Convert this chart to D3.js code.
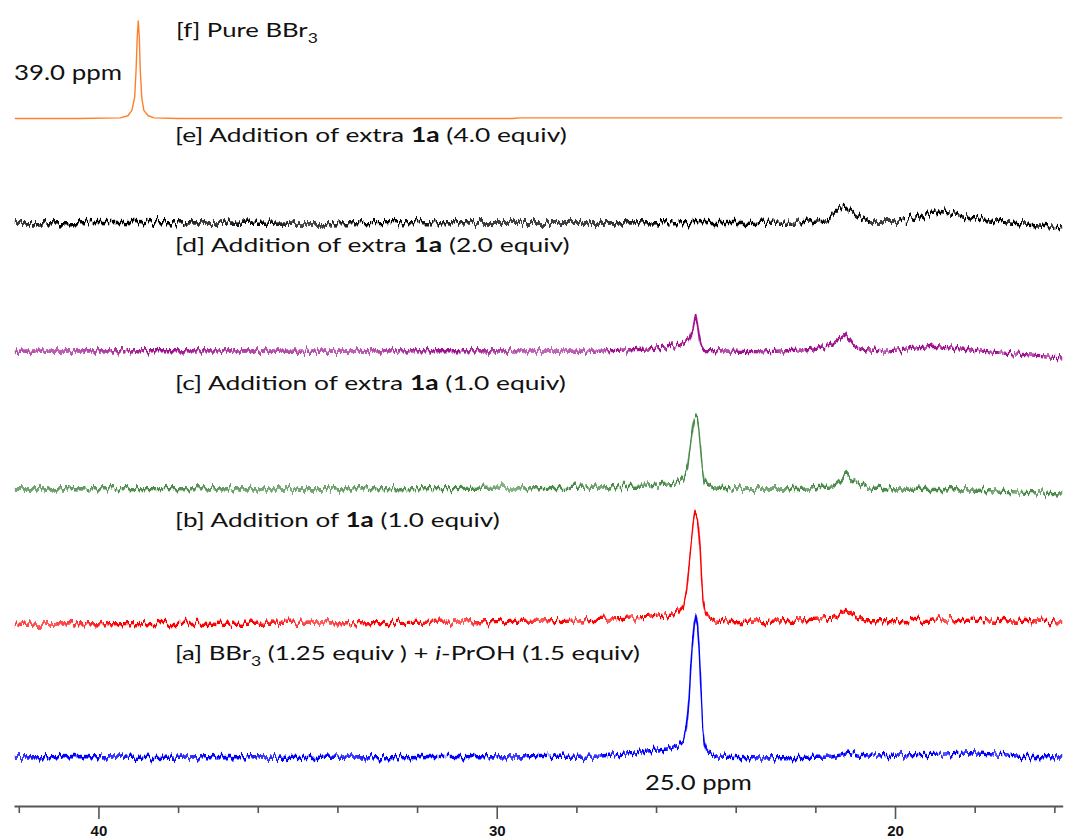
<!DOCTYPE html>
<html>
<head>
<meta charset="utf-8">
<script src="https://cdn.jsdelivr.net/npm/d3@7"></script>
<style>
  html, body { margin: 0; padding: 0; background: #fff; }
  svg { display: block; }
</style>
</head>
<body>
<svg id="chart" width="1076" height="839"></svg>
<script>
// ---- 11B NMR axis (ppm) ----
const tickValues = [42, 40, 38, 36, 34, 32, 30, 28, 26, 24, 22, 20, 18, 16];
const majorTicks = [40, 30, 20];

// Peak positions quoted on the plot (ppm)
const peakBBr3 = 39.0;
const peakAdduct = 25.0;

// Spectra as [ppm, intensity]; intensity relative to the main peak of [a] (= 100)
const spectrumA = [ // BBr3 (1.25 equiv) + i-PrOH (1.5 equiv)
  [42.1, 0], [40.5, 0.4], [38.7, -0.3], [36.8, 0.3], [34.9, -0.3], [33.0, 0.2], [31.2, 0.3],
  [29.5, 0], [28.5, 0.5], [27.4, 0.7], [26.6, 2.5], [26.22, 4.2], [25.71, 5.6], [25.42, 8.5],
  [25.31, 12], [25.25, 19], [25.21, 28], [25.17, 42], [25.13, 62], [25.085, 80], [25.04, 94],
  [peakAdduct, 100], [24.96, 94], [24.925, 80], [24.89, 60], [24.86, 40], [24.83, 22], [24.79, 11],
  [24.73, 5], [24.66, 2.8], [24.48, 0], [23.4, -0.7], [22.4, -0.3], [21.6, 0], [21.35, 1.5], [21.18, 3.5],
  [20.95, 1.4], [20.6, 0.5], [19.9, 1.4], [18.8, 2], [18.1, 3], [17.4, 2], [16.9, 0.5], [15.8, 0]
];
const spectrumB = [ // + 1a (1.0 equiv)
  [42.1, -1.4], [38.0, -1.0], [34.9, -0.7], [31.2, 0], [29.0, 0.7], [27.4, 1.9], [26.2, 3.3],
  [25.5, 6.1], [25.31, 12], [25.23, 22.5], [25.17, 40], [25.12, 55], [25.07, 68], [25.035, 74],
  [peakAdduct, 76.5], [24.965, 74], [24.93, 66], [24.89, 50.7], [24.855, 30], [24.82, 15], [24.76, 6.1],
  [24.66, 2.5], [24.53, 0.9], [24.02, -0.5], [22.8, 0.9], [21.56, 2.6], [21.4, 5], [21.24, 9.6],
  [21.1, 6], [20.97, 3.7], [20.72, 0.9], [19.9, 0.9], [18.8, 1.4], [18.1, 2.1], [17.2, 1.0], [15.8, -0.7]
];
const spectrumC = [ // + extra 1a (1.0 equiv)
  [42.1, 0], [38.5, 0.3], [34.9, 0], [31.2, 0.3], [27.4, 1.4], [26.2, 2.1], [25.5, 4.2],
  [25.3, 8], [25.21, 16], [25.145, 30], [25.075, 44], [25.035, 49], [peakAdduct, 50], [24.965, 49],
  [24.925, 42], [24.88, 28], [24.84, 14], [24.79, 6], [24.7, 2.5], [24.53, 0.7], [24.02, 0],
  [22.8, 0], [21.56, 1.4], [21.4, 5.5], [21.24, 11.3], [21.1, 6.5], [20.97, 4.2], [20.72, 0.7],
  [19.9, 0], [18.1, -0.7], [17.0, -2], [15.8, -3.5]
];
const spectrumD = [ // + extra 1a (2.0 equiv)
  [42.1, 0], [38.5, 0.3], [34.9, 0], [31.2, 0.3], [27.4, 0], [26.2, 1.5], [25.40, 4.2],
  [25.16, 8], [25.07, 16], [25.025, 23], [peakAdduct, 26.5], [24.965, 20], [24.92, 11], [24.875, 4],
  [24.8, 0.5], [23.3, -0.5], [22.12, 1.2], [21.6, 4.2], [21.4, 8.5], [21.27, 12.9], [21.15, 8],
  [21.06, 4.2], [20.81, 1.2], [20.22, 0], [19.05, 3.5], [18.22, 1.2], [17.38, -1.2], [16.55, -2.8],
  [15.8, -4]
];
const spectrumE = [ // + extra 1a (4.0 equiv)
  [42.1, 0], [39.5, 0.3], [36.0, -0.2], [33.0, 0.2], [30.0, 0], [27.4, 0], [24.0, 0.3],
  [22.39, 0.7], [21.64, 3.1], [21.43, 8.9], [21.28, 12.5], [21.1, 7.7], [20.93, 4.2], [20.64, 0.7],
  [19.88, 0.7], [19.38, 4.2], [18.92, 8.4], [18.54, 6.6], [18.04, 3.1], [17.37, 0.3], [16.55, -1.1],
  [15.8, -2.8]
];
const spectrumF = [ // pure BBr3
  [42.1, 0], [40.5, 0], [39.45, 0.5], [39.26, 2], [39.16, 5.8], [39.09, 15], [39.055, 34],
  [39.025, 58], [peakBBr3, 68.7], [38.975, 58], [38.95, 34], [38.91, 14], [38.86, 5.8], [38.75, 2],
  [38.6, 0.5], [38.0, 0], [29.6, 0], [29.4, 0.5], [15.8, 0.5]
];

// Vertical stacking offsets (same intensity units), bottom to top
const stackOffsets = [0, 95.0, 188.7, 285.8, 376.1, 449.6];

// Trace labels, bottom to top
const traceLabels = [
  [{ t: "[a] BBr" }, { t: "3", sub: true }, { t: " (1.25 equiv ) + " }, { t: "i", i: true }, { t: "-PrOH (1.5 equiv)" }],
  [{ t: "[b] Addition of " }, { t: "1a", b: true }, { t: " (1.0 equiv)" }],
  [{ t: "[c] Addition of extra " }, { t: "1a", b: true }, { t: " (1.0 equiv)" }],
  [{ t: "[d] Addition of extra " }, { t: "1a", b: true }, { t: " (2.0 equiv)" }],
  [{ t: "[e] Addition of extra " }, { t: "1a", b: true }, { t: " (4.0 equiv)" }],
  [{ t: "[f] Pure BBr" }, { t: "3", sub: true }]
];

// ---- drawing ----
const spectra = [spectrumA, spectrumB, spectrumC, spectrumD, spectrumE, spectrumF];
const colors = ["#0000ff", "#ff0000", "#4a8b4a", "#a0118f", "#000000", "#ff7f2a"];
const noiseScale = [14, 13, 13, 13, 14, 0];

const W = 1076, H = 839;
const svg = d3.select("#chart");
svg.append("rect").attr("width", W).attr("height", H).attr("fill", "#fff");

const x = d3.scaleLinear().domain([42.12, 15.79]).range([14, 1062.7]);
// 100 intensity units = 142 px
const y = d3.scaleLinear().domain([0, 100]).range([757, 615]);

// baseline noise texture applied to each trace
const defs = svg.append("defs");
noiseScale.forEach((s, i) => {
  if (!s) return;
  const f = defs.append("filter")
    .attr("id", "noise-" + i)
    .attr("filterUnits", "userSpaceOnUse")
    .attr("x", 0).attr("y", 0).attr("width", W).attr("height", H)
    .attr("color-interpolation-filters", "sRGB");
  f.append("feTurbulence")
    .attr("type", "fractalNoise")
    .attr("baseFrequency", "0.34 0.02")
    .attr("numOctaves", 3)
    .attr("seed", i + 3)
    .attr("result", "turb");
  f.append("feColorMatrix")
    .attr("in", "turb")
    .attr("type", "matrix")
    .attr("values", "0 0 0 0 0.5  0 1 0 0 0  0 0 1 0 0  0 0 0 0 1")
    .attr("result", "map");
  f.append("feDisplacementMap")
    .attr("in", "SourceGraphic")
    .attr("in2", "map")
    .attr("scale", s)
    .attr("xChannelSelector", "R")
    .attr("yChannelSelector", "G")
    .attr("result", "disp");
  f.append("feMorphology")
    .attr("in", "disp")
    .attr("operator", "dilate")
    .attr("radius", "0.3 1.2");
});

const traces = svg.append("g").attr("class", "traces");
spectra.forEach((data, i) => {
  const line = d3.line()
    .x(d => x(d[0]))
    .y(d => y(stackOffsets[i] + d[1]))
    .curve(d3.curveLinear);
  traces.append("path")
    .datum(data)
    .attr("d", line)
    .attr("fill", "none")
    .attr("stroke", colors[i])
    .attr("stroke-width", noiseScale[i] ? 1.4 : 1.4)
    .attr("stroke-linejoin", "round")
    .attr("filter", noiseScale[i] ? `url(#noise-${i})` : null);
});

// ---- axis ----
const axis = d3.axisBottom(x)
  .tickValues(tickValues)
  .tickSizeOuter(0)
  .tickSizeInner(7)
  .tickPadding(12)
  .tickFormat(d => majorTicks.includes(d) ? d : "");
const ax = svg.append("g").attr("transform", "translate(0,806)").call(axis);
ax.select(".domain").attr("stroke", "#555").attr("stroke-width", 2);
ax.selectAll(".tick line").attr("stroke", "#555").attr("stroke-width", 1.6)
  .attr("y2", d => majorTicks.includes(d) ? 13 : 7);
ax.selectAll(".tick text")
  .attr("fill", "#111")
  .attr("font-family", "'Liberation Sans', Arial, sans-serif")
  .attr("font-weight", "bold")
  .attr("font-size", 15)
  .attr("y", 19);

// ---- text ----
const labelFont = "Lato, 'Noto Sans', sans-serif";
function stretchText(parts, px, py, width, size) {
  const t = svg.append("text")
    .attr("font-family", labelFont)
    .attr("font-size", size)
    .attr("fill", "#111")
    .attr("transform", `translate(${px},${py})`);
  let shifted = false;
  parts.forEach(p => {
    const s = t.append("tspan").text(p.t);
    if (p.b) s.attr("font-weight", "bold");
    if (p.i) s.attr("font-style", "italic");
    if (p.sub) { s.attr("font-size", size * 0.68).attr("dy", size * 0.3); shifted = true; }
    else if (shifted) { s.attr("dy", -size * 0.3); shifted = false; }
  });
  const bw = t.node().getBBox().width;
  t.attr("transform", `translate(${px},${py}) scale(${width / bw},1)`);
}

// label placement, bottom to top: [x, baseline y, width]
const labelPlacement = [[175, 660, 465], [175, 527, 325], [175, 390, 391], [175, 252, 395], [175, 142, 392], [176, 37, 142]];
traceLabels.forEach((parts, i) => {
  const [px, py, w] = labelPlacement[i];
  stretchText(parts, px, py, w, 20);
});

stretchText([{ t: `${peakBBr3.toFixed(1)} ppm` }], 14, 80, 108, 21);
stretchText([{ t: `${peakAdduct.toFixed(1)} ppm` }], 645, 790, 107, 21);
</script>
</body>
</html>
